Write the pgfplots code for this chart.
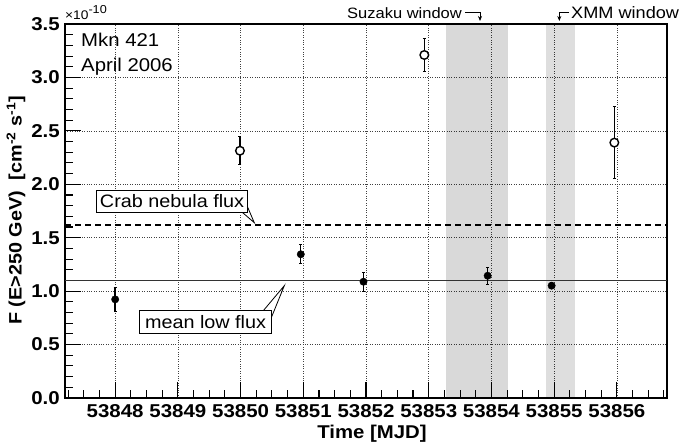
\documentclass[border=0pt]{standalone}
\usepackage{fontspec}
\setmainfont{Liberation Sans}[FakeStretch=1.1]
\usepackage{pgfplots}
\pgfplotsset{compat=1.18}
\usetikzlibrary{arrows.meta}
\begin{document}
\begin{tikzpicture}
\path (0,0) rectangle (684pt,443pt);
\begin{axis}[
  at={(65pt,45pt)}, anchor=south west, scale only axis,
  width=602pt, height=374pt,
  xmin=53847.2, xmax=53856.8, ymin=0, ymax=3.5,
  scaled x ticks=false, scaled y ticks=false,
  tick pos=left,
  tick align=inside,
  xtick={53848,53849,53850,53851,53852,53853,53854,53855,53856},
  xticklabels={53848,53849,53850,53851,53852,53853,53854,53855,53856},
  minor xtick={53847.25,53847.5,53847.75,
    53848.25,53848.5,53848.75,53849.25,53849.5,53849.75,
    53850.25,53850.5,53850.75,53851.25,53851.5,53851.75,
    53852.25,53852.5,53852.75,53853.25,53853.5,53853.75,
    53854.25,53854.5,53854.75,53855.25,53855.5,53855.75,
    53856.25,53856.5,53856.75},
  ytick={0,0.5,1,1.5,2,2.5,3,3.5},
  yticklabels={0.0,0.5,1.0,1.5,2.0,2.5,3.0,3.5},
  minor y tick num=4,
  major tick length=16pt, minor tick length=8pt,
  tick style={black, line width=1.1pt},
  axis line style={line width=1.5pt},
  xmajorgrids, ymajorgrids,
  major grid style={black!75, line width=0.7pt, dash pattern=on 0.8pt off 1.6pt},
  ticklabel style={font=\bfseries\fontsize{18.6}{19}\selectfont},
  xticklabel style={anchor=base, yshift=-20pt, inner sep=0pt},
  yticklabel style={anchor=east, inner sep=0pt, xshift=-5pt},
]
% observation windows (semi-transparent so that the grid shows through)
\addplot[fill=black, fill opacity=0.15, draw=none] coordinates {(53853.27,0) (53853.27,3.5) (53854.27,3.5) (53854.27,0)} -- cycle;
\addplot[fill=black, fill opacity=0.13, draw=none] coordinates {(53854.87,0) (53854.87,3.5) (53855.33,3.5) (53855.33,0)} -- cycle;
% reference lines
\addplot[black, line width=1.3pt, dash pattern=on 6pt off 4pt] coordinates {(53847.2,1.62) (53856.8,1.62)};
\addplot[black!80, line width=1.6pt] coordinates {(53847.2,1.10) (53856.8,1.10)};
% low-flux nights (filled)
\addplot[only marks, mark=*, mark size=3.7pt, black,
  error bars/.cd, y dir=both, y explicit,
  error bar style={line width=1.4pt},
  error mark options={rotate=90, mark size=1.5pt, line width=1pt}]
coordinates {
(53848.00,0.923) +- (0,0.113)
(53850.96,1.345) +- (0,0.09)
(53851.96,1.088) +- (0,0.09)
(53853.94,1.144) +- (0,0.08)
(53854.96,1.051) +- (0,0.03)
};
% high-flux nights (open)
\addplot[only marks, mark=*, mark size=4.3pt, black, mark options={fill=white, line width=1.4pt},
  error bars/.cd, y dir=both, y explicit,
  error bar style={line width=1.4pt},
  error mark options={rotate=90, mark size=1.5pt, line width=1pt}]
coordinates {
(53849.99,2.314) +- (0,0.13)
(53852.93,3.210) +- (0,0.15)
(53855.96,2.390) +- (0,0.34)
};
\end{axis}
\begin{scope}[x=1pt,y=1pt]
% axis titles
\node[rotate=90, anchor=center, inner sep=0pt, font=\bfseries\fontsize{18}{19}\selectfont] at (16,232.5) {F (E>250 GeV)\ \ [cm\textsuperscript{-2} s\textsuperscript{-1}]};
\node[anchor=base, inner sep=0pt, font=\bfseries\fontsize{18.5}{19}\selectfont] at (372,4) {Time [MJD]};
\node[anchor=base west, inner sep=0pt, font=\fontsize{12.5}{13}\selectfont] at (65,423) {×10\raisebox{6.5pt}{\fontsize{11.5}{12}\selectfont -10}};
% labels
\node[anchor=base west, inner sep=0pt, font=\fontsize{18.5}{19}\selectfont] at (81,396.3) {Mkn 421};
\node[anchor=base west, inner sep=0pt, font=\fontsize{18.5}{19}\selectfont] at (81,371.5) {April 2006};
% window labels
\node[anchor=base east, inner sep=0pt, font=\fontsize{15}{16}\selectfont] at (462,424.7) {Suzaku window};
\draw[line width=0.8pt, -{Stealth[length=5pt,width=4pt]}] (465,430.3) -- (480,430.3) -- (480,422);
\node[anchor=base west, inner sep=0pt, font=\fontsize{16.5}{17}\selectfont] at (571,424.7) {XMM window};
\draw[line width=0.8pt, -{Stealth[length=5pt,width=4pt]}] (569,430.3) -- (559.3,430.3) -- (559.3,422);
% callouts
\draw[line width=0.8pt] (246.7,238) -- (254.3,220.3) -- (242.7,230.3);
\node[draw, fill=white, line width=0.8pt, inner sep=0pt, minimum width=151.3pt, minimum height=22pt, anchor=south west, font=\fontsize{18}{19}\selectfont] at (96,230.3) {Crab nebula flux};
\draw[line width=0.8pt] (263.3,132.3) -- (284.3,157.3) -- (271.3,125.3);
\node[draw, fill=white, line width=0.8pt, inner sep=0pt, minimum width=132.3pt, minimum height=23.6pt, anchor=south west, font=\fontsize{18}{19}\selectfont] at (139,108.7) {mean low flux};
\end{scope}
\end{tikzpicture}
\end{document}
